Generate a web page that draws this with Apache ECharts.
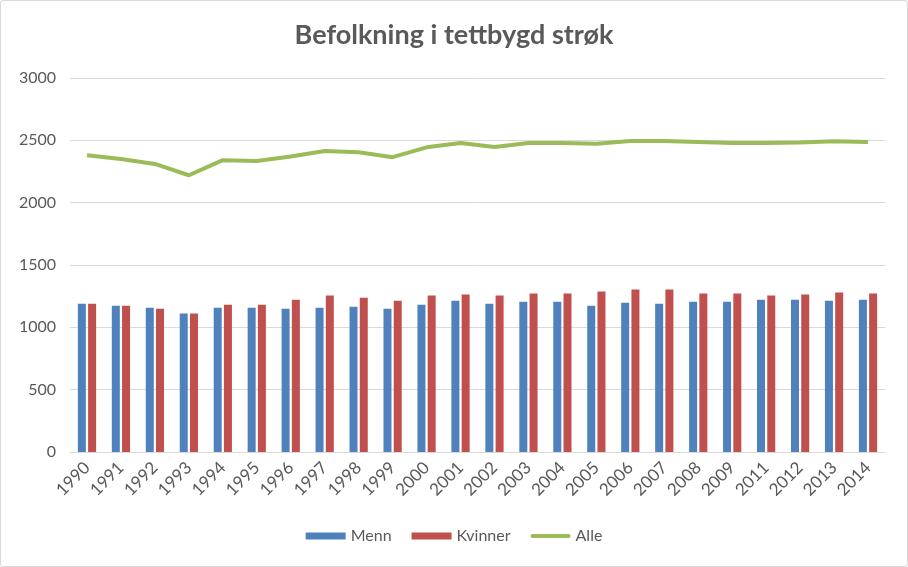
<!DOCTYPE html>
<html><head><meta charset="utf-8">
<script src="https://cdn.jsdelivr.net/npm/echarts@6/dist/echarts.min.js"></script>
<style>html,body{margin:0;padding:0;background:#fff}#c{position:absolute;left:0;top:0;width:906px;height:565px;border:1px solid #d9d9d9;border-radius:3px}</style>
</head><body><div id="c"></div>
<script>
const years = ['1990','1991','1992','1993','1994','1995','1996','1997','1998','1999','2000','2001','2002','2003','2004','2005','2006','2007','2008','2009','2011','2012','2013','2014'];
const menn = [1190,1174,1158,1110,1158,1158,1150,1158,1166,1150,1182,1214,1190,1206,1206,1174,1198,1190,1206,1206,1222,1222,1214,1222];
const kvinner = [1190,1174,1150,1110,1182,1182,1222,1255,1238,1214,1255,1263,1255,1271,1271,1287,1303,1303,1271,1271,1255,1263,1279,1271];
const alle = [2381,2350,2311,2220,2341,2334,2371,2414,2405,2365,2444,2478,2446,2478,2478,2472,2494,2494,2486,2478,2478,2483,2492,2486];
const yTicks = [0,500,1000,1500,2000,2500,3000];
const FONT = 'Lato, "Open Sans", sans-serif';
const chart = echarts.init(document.getElementById('c'));
chart.setOption({
  animation:false,
  title:{text:'Befolkning i tettbygd strøk',left:'center',top:16,textStyle:{fontFamily:FONT,fontSize:27,fontWeight:'bold',color:'#595959'}},
  grid:{left:69,right:22,top:77,bottom:114,containLabel:false},
  legend:{bottom:17,left:'center',itemWidth:40,itemHeight:7,itemGap:20,textStyle:{fontFamily:FONT,fontSize:16,color:'#595959'},
    data:[{name:'Menn',icon:'rect'},{name:'Kvinner',icon:'rect'},{name:'Alle',icon:'path://M2,0H38A2,2 0 0 1 38,4H2A2,2 0 0 1 2,0Z'}]},
  xAxis:{type:'category',data:years,axisTick:{show:false},axisLine:{lineStyle:{color:'#d9d9d9',width:1}},
    axisLabel:{rotate:45,fontFamily:FONT,fontSize:17,color:'#595959',margin:13,interval:0}},
  yAxis:{type:'value',min:yTicks[0],max:yTicks[yTicks.length-1],interval:500,axisLine:{show:false},axisTick:{show:false},
    splitLine:{lineStyle:{color:'#d9d9d9',width:1}},axisLabel:{fontFamily:FONT,fontSize:16,color:'#595959',margin:14,formatter:v=>String(v)}},
  series:[
    {name:'Menn',type:'bar',data:menn,barWidth:8,barGap:'28%',itemStyle:{color:'#4f81bd'}},
    {name:'Kvinner',type:'bar',data:kvinner,barWidth:8,itemStyle:{color:'#c0504d'}},
    {name:'Alle',type:'line',data:alle,symbol:'none',lineStyle:{color:'#9bbb59',width:4},itemStyle:{color:'#9bbb59'}}
  ]
});
</script></body></html>
